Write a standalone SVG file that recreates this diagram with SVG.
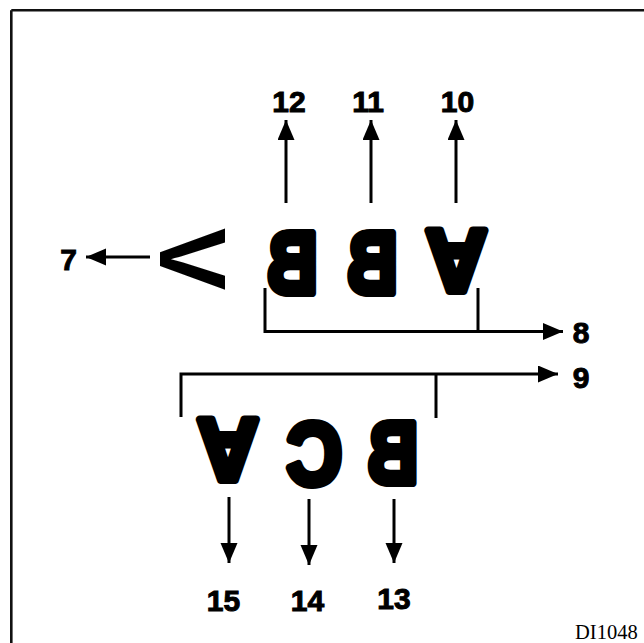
<svg xmlns="http://www.w3.org/2000/svg" width="644" height="643" viewBox="0 0 644 643">
  <style>
    .glyph { font-family: "Liberation Sans", Arial, sans-serif; font-weight: bold; font-size: 87px; text-anchor: middle; fill: #000; stroke: #000; stroke-width: 8px; stroke-linejoin: round; }
    .thin { stroke: none; font-size: 94px; }
    .num { font-family: "Liberation Sans", Arial, sans-serif; font-weight: bold; font-size: 30px; text-anchor: middle; fill: #000; stroke: #000; stroke-width: 1px; }
    .code { font-family: "Liberation Serif", "Times New Roman", serif; font-size: 20.5px; fill: #000; }
    .line { stroke: #000; stroke-width: 3; fill: none; }
    .arrow { stroke: #000; stroke-width: 3; fill: none; marker-end: url(#head); }
    .frame { stroke: #111; stroke-width: 2.6; fill: none; }
  </style>
  <defs>
    <marker id="head" markerUnits="userSpaceOnUse" markerWidth="21" markerHeight="18" refX="20" refY="8.5" orient="auto">
      <path d="M0,0 L20,8.5 L0,17 Z" fill="#000"/>
    </marker>
  </defs>

  <rect width="644" height="643" fill="#fff"/>

  <!-- frame edges -->
  <g id="frame">
    <line class="frame" x1="11.3" y1="10.3" x2="644" y2="10.3"/>
    <line class="frame" x1="11.3" y1="10.3" x2="11.3" y2="643"/>
  </g>

  <!-- upper row of letters -->
  <g id="letter-v-rotated">
    <text class="glyph thin" transform="translate(193.5,259) rotate(90)" y="33.7">V</text>
  </g>
  <g id="letter-b-upper-1">
    <text class="glyph" transform="translate(292.5,262) scale(-0.8,1)" y="31.2">B</text>
  </g>
  <g id="letter-b-upper-2">
    <text class="glyph" transform="translate(372.5,262) scale(-0.8,1)" y="31.2">B</text>
  </g>
  <g id="letter-a-upper">
    <text class="glyph" transform="translate(456.5,262) scale(0.97,-1)" y="31.2">A</text>
  </g>

  <!-- lower row of letters -->
  <g id="letter-a-lower">
    <text class="glyph" transform="translate(228,451.5) scale(0.97,-1)" y="31.2">A</text>
  </g>
  <g id="letter-c-lower">
    <text class="glyph" transform="translate(314.5,452.5) scale(-0.87,1)" y="31.2">C</text>
  </g>
  <g id="letter-b-lower">
    <text class="glyph" transform="translate(393,452) scale(-0.8,1)" y="31.2">B</text>
  </g>

  <!-- connectors -->
  <g id="connectors">
    <line class="arrow" x1="286" y1="203" x2="286" y2="120"/>
    <line class="arrow" x1="371" y1="203" x2="371" y2="120"/>
    <line class="arrow" x1="456" y1="203" x2="456" y2="120"/>
    <line class="arrow" x1="150" y1="257" x2="86" y2="257"/>
    <polyline class="line" points="265,288 265,331.5 478,331.5"/>
    <line class="line" x1="478" y1="288" x2="478" y2="331.5"/>
    <line class="arrow" x1="478" y1="331.5" x2="563" y2="331.5"/>
    <polyline class="line" points="181,417 181,374 436,374"/>
    <line class="line" x1="436" y1="374" x2="436" y2="418"/>
    <line class="arrow" x1="436" y1="374" x2="558" y2="374"/>
    <line class="arrow" x1="229" y1="497" x2="229" y2="563"/>
    <line class="arrow" x1="309" y1="499" x2="309" y2="565"/>
    <line class="arrow" x1="394" y1="499" x2="394" y2="563"/>
  </g>

  <!-- callout numbers -->
  <g id="label-7"><text class="num" x="68.5" y="270">7</text></g>
  <g id="label-8"><text class="num" x="581" y="343">8</text></g>
  <g id="label-9"><text class="num" x="581" y="388">9</text></g>
  <g id="label-10"><text class="num" x="457.5" y="112">10</text></g>
  <g id="label-11"><text class="num" x="368" y="112">11</text></g>
  <g id="label-12"><text class="num" x="289" y="112">12</text></g>
  <g id="label-13"><text class="num" x="394" y="609">13</text></g>
  <g id="label-14"><text class="num" x="307.5" y="611">14</text></g>
  <g id="label-15"><text class="num" x="223.5" y="611">15</text></g>

  <text class="code" x="575" y="639">DI1048</text>
</svg>
